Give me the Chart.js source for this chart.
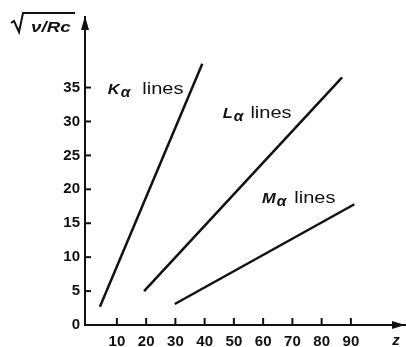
<!DOCTYPE html>
<html><head><meta charset="utf-8">
<script src="https://cdn.jsdelivr.net/npm/chart.js@4.4.1/dist/chart.umd.min.js"></script>
<style>html,body{margin:0;padding:0;background:#fff}#wrap{width:406px;height:347px;position:relative}</style>
</head><body><div id="wrap"><canvas id="c" width="406" height="347"></canvas></div>
<script>
// Series: atomic number z vs sqrt(nu/Rc), endpoints of each straight line
const seriesNames = ['K', 'L', 'M'];
const kZ = [4.2, 39.2];
const kVal = [2.7, 38.5];
const lZ = [19.3, 87.0];
const lVal = [5.0, 36.5];
const mZ = [29.8, 91.2];
const mVal = [3.1, 17.8];
const xTicks = [10, 20, 30, 40, 50, 60, 70, 80, 90];
const yTicks = [0, 5, 10, 15, 20, 25, 30, 35];

const pts = (xs, ys) => xs.map((x, i) => ({x: x, y: ys[i]}));
const FONT = '"Liberation Sans", Arial, sans-serif';
const INK = '#111';

const lineLabels = [
  {letter: 'K', x: 6.9, y: 34.0, gap: 12},
  {letter: 'L', x: 46.2, y: 30.5, gap: 7},
  {letter: 'M', x: 59.6, y: 18.0, gap: 8}
];

function stretchText(ctx, txt, x, y, sx) {
  ctx.save();
  ctx.translate(x, y); ctx.scale(sx, 1);
  ctx.fillText(txt, 0, 0);
  ctx.restore();
  return ctx.measureText(txt).width * sx;
}

const deco = {
  id: 'deco',
  afterDraw(chart) {
    const ctx = chart.ctx, xs = chart.scales.x, ys = chart.scales.y, a = chart.chartArea;
    ctx.save();
    ctx.strokeStyle = INK; ctx.fillStyle = INK; ctx.lineWidth = 2;
    // inner tick marks
    ys.ticks.forEach(t => {
      const p = ys.getPixelForValue(t.value);
      if (t.value === 0) return;
      ctx.beginPath(); ctx.moveTo(a.left, p); ctx.lineTo(a.left + 6, p); ctx.stroke();
    });
    xs.ticks.forEach(t => {
      const p = xs.getPixelForValue(t.value);
      ctx.beginPath(); ctx.moveTo(p, a.bottom); ctx.lineTo(p, a.bottom - 7); ctx.stroke();
    });
    // arrows
    ctx.beginPath();
    ctx.moveTo(a.left, a.top - 1); ctx.lineTo(a.left - 4, a.top + 13); ctx.lineTo(a.left + 4, a.top + 13); ctx.closePath(); ctx.fill();
    ctx.beginPath();
    ctx.moveTo(a.right, a.bottom); ctx.lineTo(a.right - 13, a.bottom - 4); ctx.lineTo(a.right - 13, a.bottom + 4); ctx.closePath(); ctx.fill();
    // y title: sqrt(nu/Rc)
    ctx.lineWidth = 2;
    ctx.lineJoin = 'miter';
    ctx.beginPath();
    ctx.moveTo(11, 23); ctx.lineTo(14, 21); ctx.lineTo(19, 32); ctx.lineTo(23, 13); ctx.lineTo(75, 13);
    ctx.stroke();
    ctx.font = 'italic bold 15px ' + FONT;
    ctx.textBaseline = 'alphabetic'; ctx.textAlign = 'left';
    stretchText(ctx, '\u03bd/Rc', 31, 32, 1.25);
    // z label
    ctx.font = 'italic bold 15px ' + FONT;
    ctx.textAlign = 'center';
    ctx.fillText('z', 396, 345);
    // line labels
    ctx.textAlign = 'left';
    lineLabels.forEach(l => {
      let x = xs.getPixelForValue(l.x), y = ys.getPixelForValue(l.y);
      ctx.font = 'italic bold 15px ' + FONT;
      x += stretchText(ctx, l.letter, x, y, 1.1) + 1;
      ctx.font = 'italic bold 14px ' + FONT;
      x += stretchText(ctx, '\u03b1', x, y + 3, 1.1) + l.gap;
      ctx.font = '16px ' + FONT;
      stretchText(ctx, 'lines', x, y, 1.25);
    });
    ctx.restore();
  }
};

const mk = (xs, ys, name) => ({label: name, data: pts(xs, ys), showLine: true, borderColor: INK, borderWidth: 2.5, pointRadius: 0, fill: false, tension: 0});

new Chart(document.getElementById('c'), {
  type: 'scatter',
  data: {datasets: [mk(kZ, kVal, seriesNames[0]), mk(lZ, lVal, seriesNames[1]), mk(mZ, mVal, seriesNames[2])]},
  options: {
    responsive: false, animation: false, devicePixelRatio: 1,
    layout: {padding: {top: 17, right: 1, left: 0, bottom: 0}},
    plugins: {legend: {display: false}, tooltip: {enabled: false}},
    scales: {
      x: {
        type: 'linear', min: -0.9, max: 108.5,
        afterBuildTicks: s => { s.ticks = xTicks.map(v => ({value: v})); },
        afterFit: s => { s.height = 22; },
        grid: {display: false, drawTicks: false},
        border: {display: true, color: INK, width: 2},
        ticks: {padding: 8, color: INK, font: {family: FONT, size: 15, weight: 'bold'}, maxRotation: 0, autoSkip: false}
      },
      y: {
        type: 'linear', min: 0, max: 45.4,
        afterBuildTicks: s => { s.ticks = yTicks.map(v => ({value: v})); },
        afterFit: s => { s.width = 85; },
        grid: {display: false, drawTicks: false},
        border: {display: true, color: INK, width: 2},
        ticks: {padding: 5, color: INK, font: {family: FONT, size: 15, weight: 'bold'}, autoSkip: false}
      }
    }
  },
  plugins: [deco]
});
</script></body></html>
